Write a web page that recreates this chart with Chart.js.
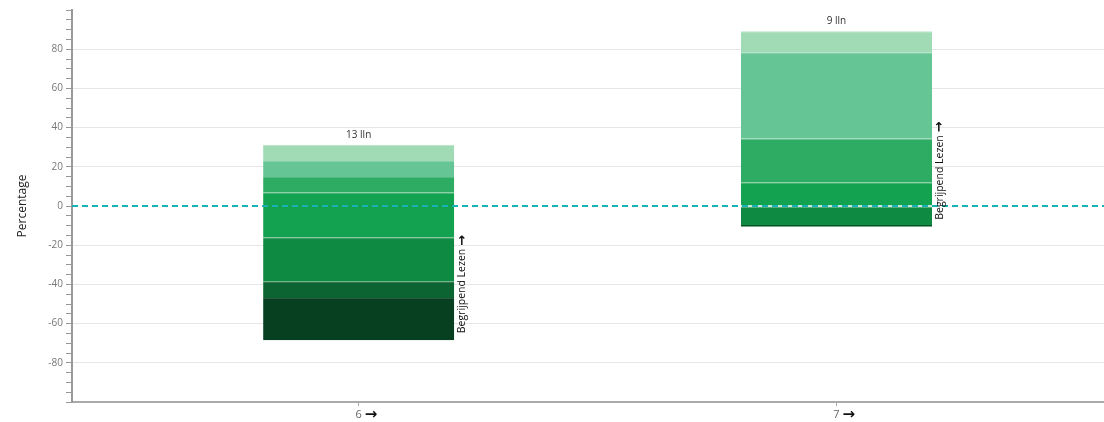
<!DOCTYPE html>
<html>
<head>
<meta charset="utf-8">
<script src="https://cdn.jsdelivr.net/npm/chart.js@4.4.1/dist/chart.umd.min.js"></script>
<style>
html, body { margin: 0; padding: 0; background: #fff; }
#wrap { width: 1104px; height: 422px; }
</style>
</head>
<body>
<div id="wrap"><canvas id="levelChart"></canvas></div>
<script>

// ==========================
// DATA
// ==========================

const groups = [6, 7];
const studentCounts = [13, 9];
const subjectLabel = "Begrijpend Lezen";

// where each bar starts (percentage below zero)
const barBottoms = [-68.5, -10.6];

// share per level for each group, lowest level first
const level1 = [21.6, 0];
const level2 = [8.2, 0.9];
const level3 = [22.7, 9.7];
const level4 = [23.0, 12.1];
const level5 = [7.8, 22.2];
const level6 = [8.2, 44.1];
const level7 = [8.2, 10.8];

const levelColors = ["#074021", "#0b6431", "#0f8a43", "#13a24f", "#2fac64", "#66c594", "#a1dbb5"];
const levelEdges = ["#2a5a3e", "#0a5329", "#3aa061", "#40b56e", "#55bc7f", "#85d1a8", "#b6e3c6"];

const yTickLabels = [-80, -60, -40, -20, 0, 20, 40, 60, 80];

// ==========================
// BUILD DATASETS
// ==========================

const levels = [level1, level2, level3, level4, level5, level6, level7];
let running = barBottoms.slice();
let datasets = [];

levels.forEach((level, i) => {

    let points = [];

    level.forEach((share, g) => {

        let start = running[g];
        running[g] += share;

        if(share > 0){
            points.push({ x: groups[g], y: [start, running[g]] });
        }

    });

    datasets.push({
        label: "Niveau " + (i + 1),
        data: points,
        backgroundColor: levelColors[i],
        borderColor: levelEdges[i],
        borderWidth: { top: 1, right: 0, bottom: 0, left: 0 },
        borderSkipped: false,
        grouped: false,
        barPercentage: 0.4,
        categoryPercentage: 1
    });

});

// ==========================
// ZERO LINE + LABELS
// ==========================

const overlayPlugin = {

    id: "overlay",

    afterDatasetsDraw(chart){

        const ctx = chart.ctx;
        const area = chart.chartArea;
        const xScale = chart.scales.x;
        const y0 = chart.scales.y.getPixelForValue(0);

        ctx.save();

        ctx.strokeStyle = "#19b2b4";
        ctx.lineWidth = 2;
        ctx.setLineDash([6, 4]);
        ctx.beginPath();
        ctx.moveTo(area.left, y0);
        ctx.lineTo(area.right, y0);
        ctx.stroke();
        ctx.setLineDash([]);

        groups.forEach((g, i) => {

            let top = Infinity;
            let bottom = -Infinity;
            let right = 0;
            let center = 0;

            chart.data.datasets.forEach((ds, d) => {

                chart.getDatasetMeta(d).data.forEach((bar, j) => {

                    if(ds.data[j].x !== g) return;

                    const p = bar.getProps(["x", "y", "base", "width"], true);
                    top = Math.min(top, p.y, p.base);
                    bottom = Math.max(bottom, p.y, p.base);
                    right = p.x + p.width / 2;
                    center = p.x;

                });

            });

            ctx.fillStyle = "#333";
            ctx.font = "10px 'Open Sans'";
            ctx.textAlign = "center";
            ctx.textBaseline = "middle";
            ctx.fillText(studentCounts[i] + " lln", center, top - 10);

            ctx.save();
            ctx.translate(right + 8, bottom - 7);
            ctx.rotate(-Math.PI / 2);
            ctx.fillStyle = "#111";
            ctx.font = "10.5px 'Open Sans'";
            ctx.textAlign = "left";
            ctx.fillText(subjectLabel, 0, 0);
            const w = ctx.measureText(subjectLabel + " ").width;
            ctx.font = "bold 13px 'DejaVu Sans'";
            ctx.fillText("\u2192", w, 0);
            ctx.restore();

            // arrow next to the group label
            ctx.fillStyle = "#111";
            ctx.font = "bold 15px 'DejaVu Sans'";
            ctx.textAlign = "left";
            ctx.fillText("\u2192", xScale.getPixelForValue(g) + 6, area.bottom + 13);

        });

        ctx.restore();

    }

};

// ==========================
// CHART
// ==========================

new Chart(document.getElementById("levelChart"), {

    type: "bar",

    data: { datasets: datasets },

    plugins: [overlayPlugin],

    options: {

        responsive: true,
        maintainAspectRatio: false,
        animation: false,

        layout: { padding: { top: 10, right: 0, bottom: 0, left: 0 } },

        plugins: {
            legend: { display: false },
            tooltip: { enabled: false }
        },

        scales: {

            x: {
                type: "linear",
                offset: false,
                min: 5.4,
                max: 7.56,
                afterBuildTicks: scale => {
                    scale.ticks = groups.map(v => ({ value: v }));
                },
                afterFit: scale => { scale.height = 20; },
                ticks: {
                    callback: v => String(v),
                    color: "#666",
                    font: { family: "'Open Sans'", size: 11 },
                    padding: 2,
                    autoSkip: false,
                    maxRotation: 0
                },
                grid: {
                    offset: false,
                    drawOnChartArea: false,
                    drawTicks: true,
                    tickLength: 4,
                    tickColor: "#aaa"
                },
                border: { color: "#aaa", width: 2 }
            },

            y: {
                min: -100,
                max: 100,
                afterBuildTicks: scale => {
                    let ticks = [];
                    for(let v = -100; v <= 100; v += 5){
                        ticks.push({ value: v });
                    }
                    scale.ticks = ticks;
                },
                afterFit: scale => { scale.width = 72; },
                ticks: {
                    autoSkip: false,
                    callback: v => yTickLabels.includes(v) ? v : "",
                    color: "#777",
                    font: { family: "'Open Sans'", size: 10 },
                    padding: 3
                },
                grid: {
                    color: ctx => (ctx.tick && ctx.tick.value !== 0 && yTickLabels.includes(ctx.tick.value)) ? "#e6e6e6" : "rgba(0,0,0,0)",
                    tickColor: "#999",
                    tickLength: 6
                },
                border: { color: "#999", width: 2 },
                title: {
                    display: true,
                    text: "Percentage",
                    color: "#222",
                    font: { family: "'Open Sans'", size: 12 },
                    padding: { top: 15, bottom: 0 }
                }
            }

        }

    }

});

</script>
</body>
</html>
